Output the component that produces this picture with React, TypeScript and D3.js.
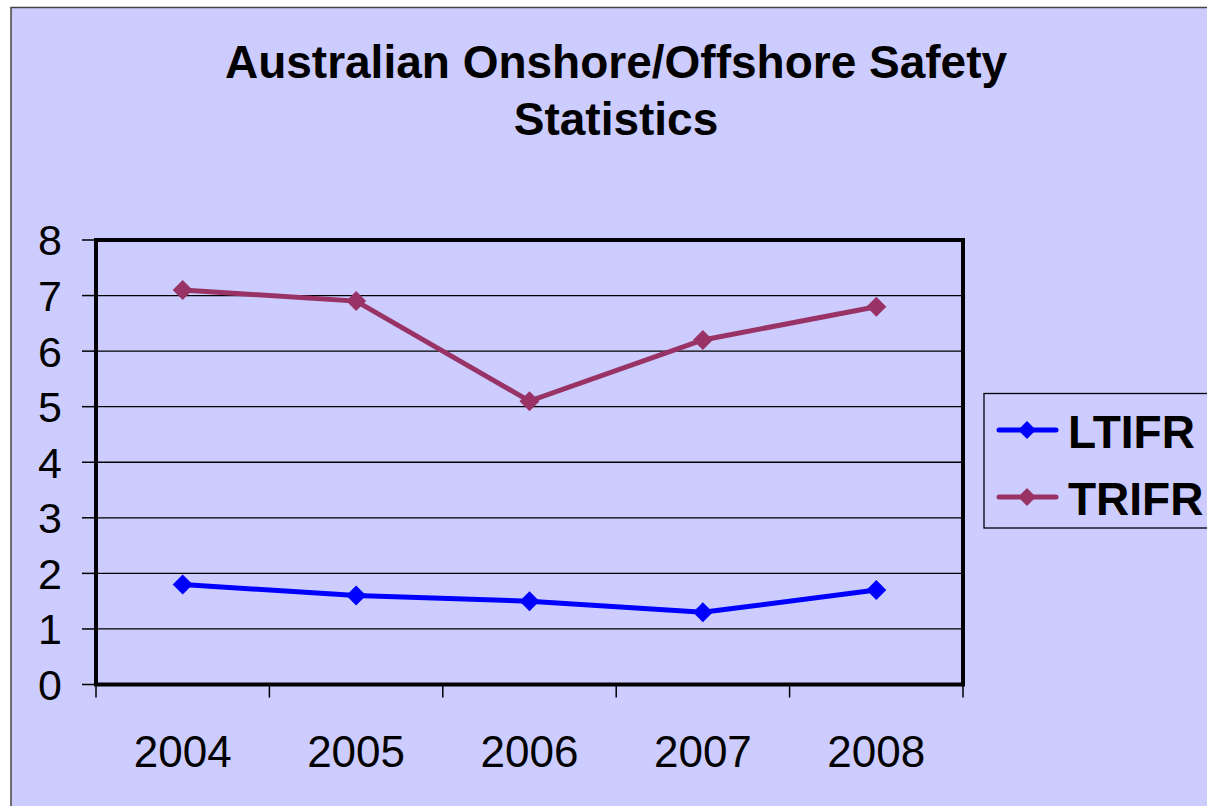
import { useEffect, useRef } from "react"
import * as d3 from "d3"

const years = ["2004", "2005", "2006", "2007", "2008"]
const ltifr = [1.8, 1.6, 1.5, 1.3, 1.7]
const trifr = [7.1, 6.9, 5.1, 6.2, 6.8]
const yTicks = [0, 1, 2, 3, 4, 5, 6, 7, 8]
const seriesNames = ["LTIFR", "TRIFR"]
const seriesColors = ["#0000FF", "#993366"]

export default function App() {
  const svgRef = useRef<SVGSVGElement>(null)

  useEffect(() => {
    if (!svgRef.current) return
    const svg = d3.select(svgRef.current)
    svg.selectAll("*").remove()

    const width = 1207
    const height = 806
    const left = 96
    const right = 963
    const top = 240
    const bottom = 684.5
    const font = "Liberation Sans, Arial, sans-serif"

    svg.attr("width", width).attr("height", height)

    svg.append("rect").attr("width", width).attr("height", height).attr("fill", "#fff")

    // chart area
    svg
      .append("rect")
      .attr("x", 11)
      .attr("y", 7.5)
      .attr("width", 1210)
      .attr("height", 820)
      .attr("fill", "#CCCCFF")
      .attr("stroke", "#444")
      .attr("stroke-width", 1.5)

    // title
    const title = svg
      .append("text")
      .attr("text-anchor", "middle")
      .style("font-family", font)
      .style("font-weight", "bold")
      .style("font-size", "46px")
      .attr("fill", "#000")
    title.append("tspan").attr("x", 616).attr("y", 78).text("Australian Onshore/Offshore Safety")
    title.append("tspan").attr("x", 616).attr("y", 135).text("Statistics")

    const x = d3.scaleBand<string>().domain(years).range([left, right])
    const y = d3.scaleLinear().domain([0, 8]).range([bottom, top])

    // gridlines
    svg
      .selectAll(".grid")
      .data(yTicks.filter((d) => d > 0 && d < 8))
      .enter()
      .append("line")
      .attr("x1", left)
      .attr("x2", right)
      .attr("y1", (d) => y(d))
      .attr("y2", (d) => y(d))
      .attr("stroke", "#000")
      .attr("stroke-width", 1.3)

    // y ticks
    svg
      .selectAll(".ytick")
      .data(yTicks)
      .enter()
      .append("line")
      .attr("x1", left - 14)
      .attr("x2", left)
      .attr("y1", (d) => y(d))
      .attr("y2", (d) => y(d))
      .attr("stroke", "#000")
      .attr("stroke-width", 1.5)

    svg
      .selectAll(".ylabel")
      .data(yTicks)
      .enter()
      .append("text")
      .attr("x", 62)
      .attr("y", (d) => y(d))
      .attr("dy", "0.36em")
      .attr("text-anchor", "end")
      .style("font-family", font)
      .style("font-size", "43px")
      .text((d) => d)

    // x ticks at category boundaries
    const bounds = years.map((d) => x(d) as number).concat([right])
    svg
      .selectAll(".xtick")
      .data(bounds)
      .enter()
      .append("line")
      .attr("x1", (d) => d)
      .attr("x2", (d) => d)
      .attr("y1", bottom)
      .attr("y2", bottom + 13)
      .attr("stroke", "#000")
      .attr("stroke-width", 1.5)

    svg
      .selectAll(".xlabel")
      .data(years)
      .enter()
      .append("text")
      .attr("x", (d) => (x(d) as number) + x.bandwidth() / 2)
      .attr("y", 767)
      .attr("text-anchor", "middle")
      .style("font-family", font)
      .style("font-size", "44px")
      .text((d) => d)

    // plot frame
    svg
      .append("rect")
      .attr("x", left)
      .attr("y", top)
      .attr("width", right - left)
      .attr("height", bottom - top)
      .attr("fill", "none")
      .attr("stroke", "#000")
      .attr("stroke-width", 4)

    const diamond = d3.symbol(d3.symbolSquare, 200)
    const line = d3
      .line<number>()
      .x((_, i) => (x(years[i]) as number) + x.bandwidth() / 2)
      .y((d) => y(d))

    ;[ltifr, trifr].forEach((values, si) => {
      const color = seriesColors[si]
      svg
        .append("path")
        .datum(values)
        .attr("d", line)
        .attr("fill", "none")
        .attr("stroke", color)
        .attr("stroke-width", 5)
      svg
        .selectAll(".m" + si)
        .data(values)
        .enter()
        .append("path")
        .attr("d", diamond)
        .attr(
          "transform",
          (d, i) => `translate(${(x(years[i]) as number) + x.bandwidth() / 2},${y(d)}) rotate(45)`
        )
        .attr("fill", color)
    })

    // legend
    svg
      .append("rect")
      .attr("x", 984)
      .attr("y", 393.5)
      .attr("width", 260)
      .attr("height", 134.5)
      .attr("fill", "none")
      .attr("stroke", "#000")
      .attr("stroke-width", 1.3)

    const legendY = [430, 497]
    seriesNames.forEach((name, i) => {
      const color = seriesColors[i]
      svg
        .append("line")
        .attr("x1", 999)
        .attr("x2", 1056)
        .attr("y1", legendY[i])
        .attr("y2", legendY[i])
        .attr("stroke", color)
        .attr("stroke-width", 5)
        .attr("stroke-linecap", "round")
      svg
        .append("path")
        .attr("d", d3.symbol(d3.symbolSquare, 160)())
        .attr("transform", `translate(1027,${legendY[i]}) rotate(45)`)
        .attr("fill", color)
      svg
        .append("text")
        .attr("x", 1068)
        .attr("y", legendY[i] + 18)
        .style("font-family", font)
        .style("font-weight", "bold")
        .style("font-size", "46px")
        .text(name)
    })
  }, [])

  return <svg ref={svgRef} style={{ position: "absolute", left: 0, top: 0 }}></svg>
}
